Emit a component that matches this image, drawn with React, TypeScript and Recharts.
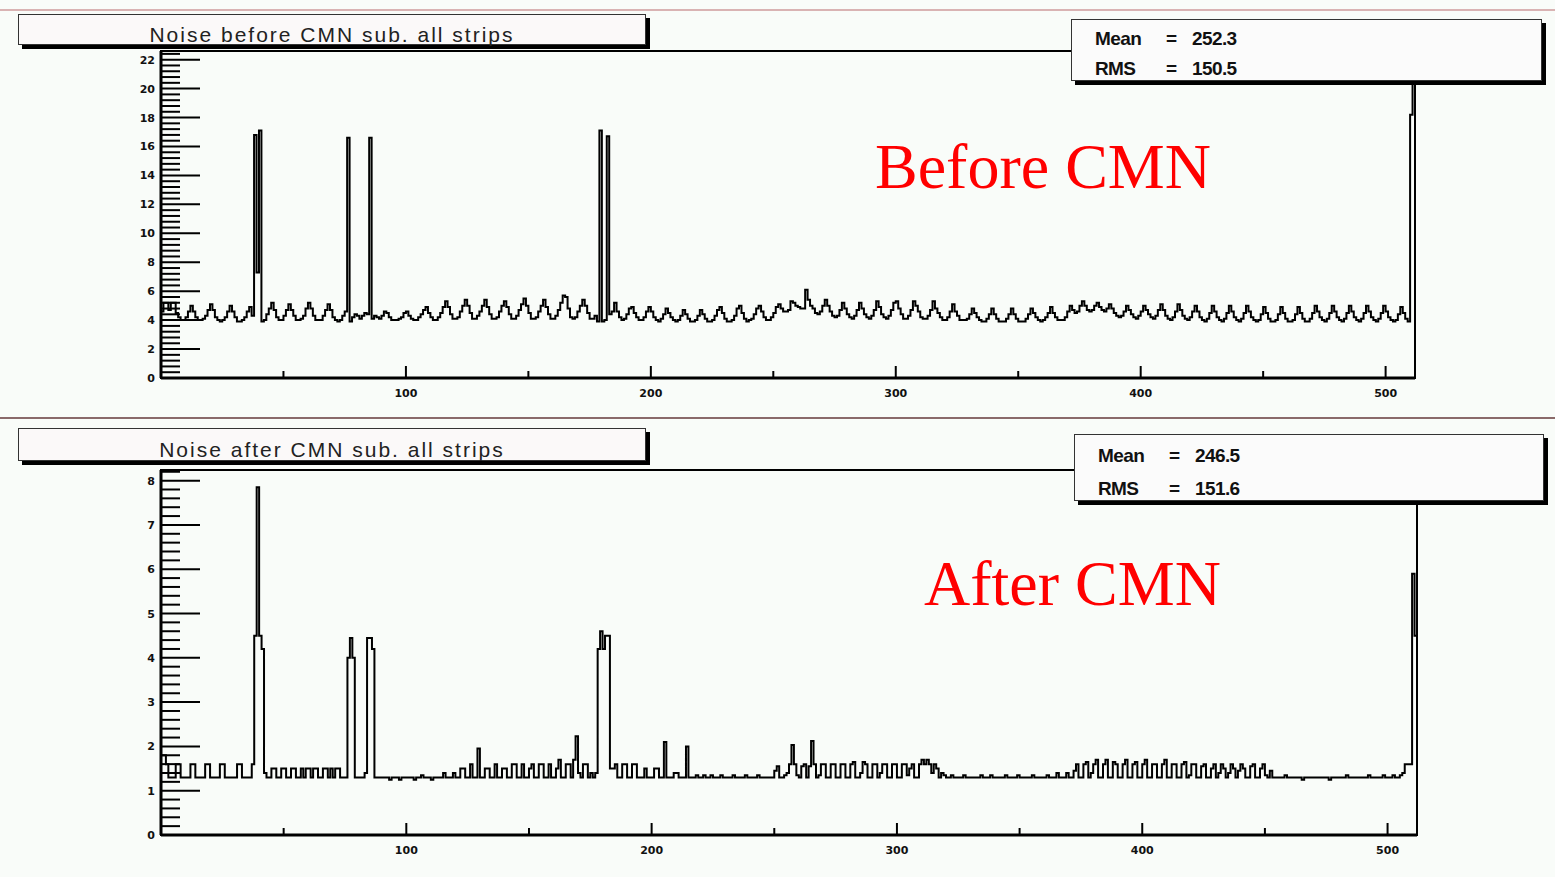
import React from 'react';
import { LineChart, Line, XAxis, YAxis, ReferenceArea } from 'recharts';

// noise per strip before common-mode subtraction (ADC counts), 512 strips
const before0to127 = [
  4.6, 5.2, 5.2, 4.7, 5.2, 5.2, 4.5, 4.2,
  4.0, 4.0, 4.2, 4.6, 5.0, 4.6, 4.2, 4.0,
  4.0, 4.1, 4.3, 4.7, 5.1, 4.7, 4.2, 4.0,
  3.9, 4.0, 4.2, 4.6, 5.0, 4.6, 4.2, 3.9,
  3.9, 4.0, 4.2, 4.6, 4.9, 4.3, 16.8, 7.3,
  17.1, 3.9, 4.0, 4.4, 4.8, 5.2, 4.7, 4.2,
  4.0, 4.0, 4.3, 4.7, 5.1, 4.7, 4.3, 4.0,
  4.0, 4.1, 4.3, 4.8, 5.2, 4.8, 4.3, 4.0,
  4.0, 4.0, 4.3, 4.7, 5.1, 4.7, 4.2, 4.0,
  3.9, 4.0, 4.3, 4.6, 16.6, 3.9, 4.2, 4.4,
  4.3, 4.1, 4.3, 4.5, 4.4, 16.6, 4.1, 4.3,
  4.2, 4.1, 4.3, 4.6, 4.5, 4.2, 4.0, 4.0,
  4.0, 4.1, 4.2, 4.5, 4.6, 4.3, 4.1, 4.0,
  4.0, 4.2, 4.4, 4.7, 4.9, 4.5, 4.2, 4.0,
  4.0, 4.2, 4.5, 4.9, 5.3, 4.9, 4.4, 4.1,
  4.1, 4.2, 4.6, 5.0, 5.4, 5.0, 4.5, 4.1,
];
const before128to255 = [
  4.1, 4.3, 4.6, 5.0, 5.4, 4.9, 4.4, 4.1,
  4.1, 4.2, 4.6, 5.0, 5.3, 4.9, 4.4, 4.1,
  4.1, 4.3, 4.7, 5.1, 5.5, 5.0, 4.5, 4.1,
  4.1, 4.2, 4.6, 5.0, 5.4, 4.9, 4.4, 4.1,
  4.1, 4.3, 4.7, 5.2, 5.7, 5.6, 4.8, 4.2,
  4.1, 4.2, 4.6, 5.0, 5.4, 5.0, 4.5, 4.1,
  4.1, 4.3, 3.9, 17.1, 3.9, 4.0, 16.7, 4.4,
  4.6, 5.2, 4.6, 4.2, 4.0, 4.1, 4.4, 4.8,
  4.9, 4.5, 4.2, 4.0, 4.0, 4.2, 4.6, 4.9,
  4.6, 4.2, 4.0, 3.9, 4.1, 4.4, 4.8, 4.5,
  4.2, 4.0, 3.9, 4.0, 4.3, 4.7, 4.4, 4.1,
  3.9, 3.9, 4.0, 4.3, 4.7, 4.4, 4.1, 3.9,
  3.9, 4.0, 4.3, 4.7, 4.9, 4.5, 4.1, 3.9,
  3.9, 4.0, 4.3, 4.8, 5.0, 4.5, 4.1, 3.9,
  4.0, 4.1, 4.4, 4.8, 5.0, 4.6, 4.2, 4.0,
  4.0, 4.2, 4.5, 4.9, 5.1, 4.8, 4.6, 4.6,
];
const before256to383 = [
  4.7, 5.3, 5.2, 5.0, 4.9, 4.8, 4.8, 6.1,
  5.4, 5.0, 4.8, 4.5, 4.4, 4.6, 5.0, 5.4,
  5.0, 4.6, 4.3, 4.2, 4.3, 4.7, 5.2, 4.8,
  4.4, 4.2, 4.1, 4.3, 4.7, 5.2, 4.8, 4.4,
  4.2, 4.1, 4.3, 4.7, 5.3, 4.9, 4.4, 4.2,
  4.1, 4.3, 4.7, 5.2, 5.3, 4.8, 4.4, 4.1,
  4.1, 4.3, 4.7, 5.3, 5.0, 4.6, 4.2, 4.1,
  4.1, 4.3, 4.7, 5.3, 4.8, 4.5, 4.2, 4.0,
  4.0, 4.2, 4.6, 5.1, 4.6, 4.3, 4.0, 4.0,
  4.0, 4.1, 4.4, 4.8, 4.5, 4.2, 4.0, 3.9,
  3.9, 4.1, 4.4, 4.8, 4.4, 4.1, 3.9, 3.9,
  3.9, 4.1, 4.4, 4.8, 4.4, 4.1, 3.9, 3.9,
  3.9, 4.1, 4.4, 4.8, 4.5, 4.2, 4.0, 3.9,
  4.0, 4.2, 4.5, 4.9, 4.5, 4.2, 4.0, 4.0,
  4.0, 4.2, 4.6, 5.0, 4.7, 4.5, 4.6, 5.0,
  5.3, 5.0, 4.7, 4.6, 4.7, 5.0, 5.2, 4.9,
];
const before384to511 = [
  4.7, 4.6, 4.8, 5.1, 4.8, 4.5, 4.3, 4.2,
  4.3, 4.6, 5.0, 4.7, 4.4, 4.2, 4.1, 4.3,
  4.6, 5.0, 4.7, 4.4, 4.2, 4.1, 4.3, 4.7,
  5.1, 4.7, 4.3, 4.1, 4.0, 4.2, 4.6, 5.1,
  4.7, 4.3, 4.1, 4.0, 4.2, 4.6, 5.0, 4.6,
  4.2, 4.0, 3.9, 4.1, 4.5, 5.0, 4.6, 4.2,
  4.0, 3.9, 4.1, 4.5, 5.0, 4.6, 4.2, 4.0,
  3.9, 4.1, 4.5, 5.0, 4.6, 4.2, 4.0, 3.9,
  4.0, 4.4, 4.9, 4.5, 4.1, 3.9, 3.9, 4.0,
  4.4, 4.9, 4.5, 4.1, 3.9, 3.9, 4.0, 4.4,
  4.9, 4.5, 4.1, 3.9, 3.9, 4.1, 4.5, 5.0,
  4.6, 4.2, 4.0, 3.9, 4.1, 4.5, 5.0, 4.6,
  4.2, 4.0, 3.9, 4.1, 4.5, 5.0, 4.6, 4.2,
  4.0, 3.9, 4.1, 4.5, 5.0, 4.6, 4.2, 4.0,
  3.9, 4.1, 4.5, 5.0, 4.6, 4.2, 4.0, 3.9,
  4.0, 4.4, 4.9, 4.5, 4.1, 3.9, 18.2, 24.0,
];

// noise per strip after common-mode subtraction
const after0to127 = [
  1.8, 1.8, 1.6, 1.3, 1.3, 1.3, 1.6, 1.6,
  1.3, 1.3, 1.3, 1.3, 1.6, 1.6, 1.3, 1.3,
  1.3, 1.3, 1.6, 1.6, 1.3, 1.3, 1.3, 1.3,
  1.6, 1.6, 1.3, 1.3, 1.3, 1.3, 1.3, 1.6,
  1.6, 1.3, 1.3, 1.3, 1.3, 1.6, 4.5, 7.85,
  4.5, 4.2, 1.4, 1.3, 1.3, 1.5, 1.5, 1.3,
  1.3, 1.5, 1.5, 1.3, 1.3, 1.5, 1.5, 1.3,
  1.3, 1.5, 1.3, 1.5, 1.5, 1.3, 1.5, 1.5,
  1.3, 1.3, 1.5, 1.5, 1.3, 1.5, 1.3, 1.5,
  1.5, 1.3, 1.3, 1.3, 4.0, 4.45, 4.0, 1.3,
  1.3, 1.3, 1.3, 1.4, 4.45, 4.45, 4.2, 1.3,
  1.3, 1.3, 1.3, 1.3, 1.3, 1.25, 1.3, 1.3,
  1.3, 1.25, 1.3, 1.3, 1.3, 1.3, 1.3, 1.25,
  1.3, 1.3, 1.35, 1.3, 1.3, 1.3, 1.25, 1.3,
  1.3, 1.3, 1.3, 1.4, 1.3, 1.3, 1.3, 1.4,
  1.3, 1.3, 1.5, 1.5, 1.3, 1.3, 1.6, 1.3,
];
const after128to255 = [
  1.3, 1.95, 1.3, 1.3, 1.5, 1.5, 1.3, 1.3,
  1.6, 1.3, 1.3, 1.5, 1.5, 1.3, 1.3, 1.6,
  1.6, 1.3, 1.3, 1.6, 1.3, 1.3, 1.5, 1.6,
  1.3, 1.3, 1.6, 1.6, 1.3, 1.3, 1.6, 1.3,
  1.3, 1.5, 1.7, 1.3, 1.3, 1.6, 1.6, 1.3,
  1.7, 2.23, 1.4, 1.3, 1.6, 1.6, 1.3, 1.4,
  1.3, 1.4, 4.2, 4.6, 4.2, 4.5, 4.5, 1.5,
  1.5, 1.6, 1.3, 1.3, 1.6, 1.6, 1.3, 1.3,
  1.6, 1.6, 1.3, 1.3, 1.3, 1.5, 1.3, 1.3,
  1.3, 1.5, 1.5, 1.3, 1.3, 2.1, 1.3, 1.3,
  1.3, 1.4, 1.4, 1.3, 1.3, 1.3, 2.0, 1.3,
  1.3, 1.3, 1.35, 1.3, 1.3, 1.35, 1.3, 1.3,
  1.35, 1.3, 1.3, 1.3, 1.35, 1.3, 1.3, 1.3,
  1.3, 1.35, 1.3, 1.3, 1.3, 1.3, 1.35, 1.3,
  1.3, 1.3, 1.3, 1.35, 1.3, 1.3, 1.3, 1.3,
  1.3, 1.3, 1.45, 1.55, 1.3, 1.3, 1.35, 1.4,
];
const after256to383 = [
  1.6, 2.03, 1.6, 1.35, 1.3, 1.55, 1.6, 1.3,
  1.55, 2.12, 1.6, 1.3, 1.35, 1.6, 1.6, 1.3,
  1.3, 1.6, 1.6, 1.3, 1.3, 1.6, 1.6, 1.3,
  1.3, 1.6, 1.65, 1.3, 1.3, 1.4, 1.65, 1.6,
  1.3, 1.3, 1.6, 1.6, 1.3, 1.4, 1.6, 1.6,
  1.3, 1.3, 1.6, 1.6, 1.3, 1.3, 1.6, 1.6,
  1.35, 1.5, 1.6, 1.3, 1.3, 1.6, 1.7, 1.6,
  1.7, 1.6, 1.4, 1.6, 1.5, 1.3, 1.4, 1.35,
  1.3, 1.3, 1.35, 1.3, 1.3, 1.3, 1.3, 1.35,
  1.3, 1.3, 1.3, 1.3, 1.3, 1.3, 1.35, 1.3,
  1.3, 1.3, 1.35, 1.3, 1.3, 1.3, 1.3, 1.3,
  1.35, 1.3, 1.3, 1.3, 1.3, 1.35, 1.3, 1.3,
  1.3, 1.3, 1.3, 1.35, 1.3, 1.3, 1.3, 1.3,
  1.3, 1.35, 1.3, 1.3, 1.3, 1.4, 1.3, 1.3,
  1.3, 1.4, 1.3, 1.3, 1.45, 1.6, 1.3, 1.3,
  1.6, 1.65, 1.3, 1.4, 1.6, 1.7, 1.3, 1.3,
];
const after384to511 = [
  1.6, 1.7, 1.3, 1.3, 1.65, 1.6, 1.3, 1.3,
  1.6, 1.7, 1.3, 1.3, 1.6, 1.65, 1.3, 1.3,
  1.6, 1.7, 1.3, 1.3, 1.6, 1.6, 1.3, 1.3,
  1.6, 1.7, 1.3, 1.3, 1.6, 1.6, 1.3, 1.3,
  1.6, 1.65, 1.3, 1.35, 1.6, 1.6, 1.3, 1.3,
  1.55, 1.6, 1.3, 1.3, 1.5, 1.6, 1.3, 1.4,
  1.6, 1.5, 1.3, 1.4, 1.6, 1.5, 1.3, 1.45,
  1.6, 1.5, 1.3, 1.3, 1.55, 1.6, 1.3, 1.3,
  1.5, 1.6, 1.35, 1.3, 1.45, 1.3, 1.3, 1.3,
  1.3, 1.3, 1.35, 1.3, 1.3, 1.3, 1.3, 1.3,
  1.3, 1.25, 1.3, 1.3, 1.3, 1.3, 1.3, 1.3,
  1.3, 1.3, 1.3, 1.3, 1.25, 1.3, 1.3, 1.3,
  1.3, 1.3, 1.3, 1.35, 1.3, 1.3, 1.3, 1.3,
  1.3, 1.3, 1.3, 1.3, 1.35, 1.3, 1.3, 1.3,
  1.3, 1.3, 1.35, 1.3, 1.3, 1.3, 1.35, 1.3,
  1.3, 1.35, 1.4, 1.6, 1.6, 1.6, 5.9, 4.5,
];

const xTicks = [50, 100, 150, 200, 250, 300, 350, 400, 450, 500];
const xLabels = [100, 200, 300, 400, 500];
const topYLabels = [0, 2, 4, 6, 8, 10, 12, 14, 16, 18, 20, 22];
const bottomYLabels = [0, 1, 2, 3, 4, 5, 6, 7, 8];

const topStats = { mean: '252.3', rms: '150.5' };
const bottomStats = { mean: '246.5', rms: '151.6' };

const NBINS = 512;

function toRows(values: number[]) {
  const rows = values.map((v, i) => ({ ch: i, v }));
  // closing edge of the last bin
  rows.push({ ch: values.length, v: values[values.length - 1] });
  return rows;
}

function minorTicks(max: number, step: number) {
  const out: number[] = [];
  for (let i = 0; i * step <= max + 1e-9; i++) out.push(+(i * step).toFixed(3));
  return out;
}

const tickFont = {
  fontFamily: 'DejaVu Sans, sans-serif',
  fontWeight: 700,
  fontSize: 11,
  fill: '#111',
};

function YTick(props: any) {
  const { x, y, payload, labels } = props;
  const isMajor = labels.includes(payload.value);
  return (
    <g>
      <line x1={x} x2={x + (isMajor ? 39 : 19)} y1={y} y2={y} stroke="#000" strokeWidth={2} />
      {isMajor && (
        <text x={x - 6} y={y + 4} textAnchor="end" {...tickFont}>
          {payload.value}
        </text>
      )}
    </g>
  );
}

function XTick(props: any) {
  const { x, y, payload } = props;
  const isMajor = xLabels.includes(payload.value);
  return (
    <g>
      <line x1={x} x2={x} y1={y} y2={y - (isMajor ? 12 : 7)} stroke="#000" strokeWidth={2} />
      {isMajor && (
        <text x={x} y={y + 19} textAnchor="middle" {...tickFont}>
          {payload.value}
        </text>
      )}
    </g>
  );
}

interface PanelProps {
  top: number;
  height: number;
  plotTop: number;
  plotBottom: number;
  plotRight: number;
  values: number[];
  yMax: number;
  yLabels: number[];
  yMinor: number;
  title: string;
  titleBox: { left: number; top: number; width: number; height: number };
  statsBox: { left: number; top: number; width: number; height: number };
  statsRows: [number, number];
  stats: { mean: string; rms: string };
  tag: string;
  tagPos: { left: number; top: number };
}

function Panel(p: PanelProps) {
  const rows = toRows(p.values);
  const yTicks = minorTicks(p.yMax, p.yMinor);
  return (
    <div style={{ position: 'absolute', left: 0, top: p.top, width: 1555, height: p.height }}>
      <LineChart
        width={1555}
        height={p.height}
        data={rows}
        margin={{ top: p.plotTop, right: 1555 - p.plotRight, bottom: p.height - p.plotBottom - 30, left: 121 }}
      >
        <ReferenceArea
          x1={0}
          x2={NBINS}
          y1={0}
          y2={p.yMax}
          fill="none"
          stroke="#000"
          strokeWidth={2}
          ifOverflow="visible"
        />
        <XAxis
          dataKey="ch"
          type="number"
          domain={[0, NBINS]}
          ticks={xTicks}
          interval={0}
          tickSize={0}
          tickMargin={0}
          tickLine={false}
          tick={(t: any) => <XTick {...t} />}
          axisLine={{ stroke: '#000', strokeWidth: 3 }}
          height={30}
          allowDataOverflow
        />
        <YAxis
          type="number"
          domain={[0, p.yMax]}
          ticks={yTicks}
          interval={0}
          tickSize={0}
          tickMargin={0}
          tickLine={false}
          tick={(t: any) => <YTick {...t} labels={p.yLabels} />}
          axisLine={{ stroke: '#000', strokeWidth: 3 }}
          width={40}
          allowDataOverflow
        />
        <Line
          type="stepAfter"
          dataKey="v"
          stroke="#000"
          strokeWidth={2}
          dot={false}
          isAnimationActive={false}
        />
      </LineChart>

      <div
        style={{
          position: 'absolute',
          ...p.titleBox,
          boxSizing: 'border-box',
          border: '1px solid #333',
          background: '#fbf9f9',
          boxShadow: '4px 4px 0 #000',
          textAlign: 'center',
          fontFamily: 'Liberation Sans, Arial, sans-serif',
          fontSize: 21,
          letterSpacing: 2,
          color: '#222',
          lineHeight: `${p.titleBox.height + 9}px`,
          overflow: 'visible',
          whiteSpace: 'nowrap',
        }}
      >
        {p.title}
      </div>

      <div
        style={{
          position: 'absolute',
          ...p.statsBox,
          boxSizing: 'border-box',
          border: '1px solid #333',
          background: '#fbfbfb',
          boxShadow: '4px 4px 0 #000',
          fontFamily: 'Liberation Sans, Arial, sans-serif',
          fontWeight: 700,
          fontSize: 19,
          letterSpacing: -0.6,
          color: '#111',
        }}
      >
        {[
          ['Mean', p.stats.mean],
          ['RMS', p.stats.rms],
        ].map(([k, v], i) => (
          <div key={k} style={{ position: 'absolute', top: p.statsRows[i], left: 0, height: 24 }}>
            <span style={{ position: 'absolute', left: 23 }}>{k}</span>
            <span style={{ position: 'absolute', left: 94 }}>=</span>
            <span style={{ position: 'absolute', left: 120 }}>{v}</span>
          </div>
        ))}
      </div>

      <div
        style={{
          position: 'absolute',
          ...p.tagPos,
          fontFamily: 'Liberation Serif, Times New Roman, serif',
          fontSize: 64,
          color: '#ff0000',
          whiteSpace: 'nowrap',
          lineHeight: '64px',
        }}
      >
        {p.tag}
      </div>
    </div>
  );
}

export default function App() {
  const before = [...before0to127, ...before128to255, ...before256to383, ...before384to511];
  const after = [...after0to127, ...after128to255, ...after256to383, ...after384to511];
  return (
    <div
      style={{
        position: 'absolute',
        left: 0,
        top: 0,
        width: 1555,
        height: 877,
        background: '#f9fcf9',
        overflow: 'hidden',
      }}
    >
      <div style={{ position: 'absolute', left: 0, top: 9, width: 1555, height: 2, background: '#d9b3b3' }} />
      <div style={{ position: 'absolute', left: 0, top: 417, width: 1555, height: 2, background: '#8a6a6a' }} />
      <Panel
        top={0}
        height={418}
        plotTop={51}
        plotBottom={378}
        plotRight={1415}
        values={before}
        yMax={22.6}
        yLabels={topYLabels}
        yMinor={0.4}
        title="Noise before CMN sub. all strips"
        titleBox={{ left: 18, top: 14, width: 628, height: 31 }}
        statsBox={{ left: 1071, top: 19, width: 471, height: 62 }}
        statsRows={[8, 38]}
        stats={topStats}
        tag="Before CMN"
        tagPos={{ left: 875, top: 135 }}
      />
      <Panel
        top={420}
        height={457}
        plotTop={50}
        plotBottom={415}
        plotRight={1417}
        values={after}
        yMax={8.24}
        yLabels={bottomYLabels}
        yMinor={0.2}
        title="Noise after CMN sub. all strips"
        titleBox={{ left: 18, top: 8, width: 628, height: 33 }}
        statsBox={{ left: 1074, top: 14, width: 470, height: 67 }}
        statsRows={[10, 43]}
        stats={bottomStats}
        tag="After CMN"
        tagPos={{ left: 924, top: 132 }}
      />
    </div>
  );
}
